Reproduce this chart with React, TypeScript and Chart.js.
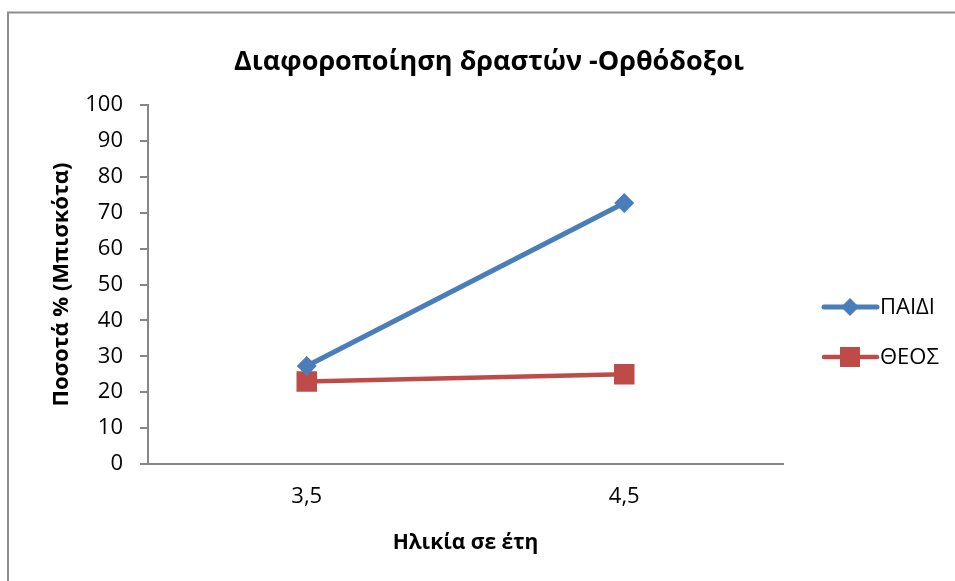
import React, { useEffect, useRef } from "react";
import { Chart, registerables } from "chart.js";

Chart.register(...registerables);

const categories = ["3,5", "4,5"];
const paidiValues = [27.3, 72.7];
const theosValues = [23, 25];
const seriesLabels = ["ΠΑΙΔΙ", "ΘΕΟΣ"];
const chartTitle = "Διαφοροποίηση δραστών -Ορθόδοξοι";
const yTitle = "Ποσοτά % (Μπισκότα)";
const xTitle = "Ηλικία σε έτη";

const BLUE = "#4a7ebb";
const RED = "#be4b48";
const AXIS = "#868686";
const FONT = "'Open Sans', 'Noto Sans', sans-serif";

export default function App() {
  const ref = useRef<HTMLCanvasElement>(null);

  useEffect(() => {
    if (!ref.current) return;
    const framePlugin = {
      id: "frameAndTitle",
      beforeDraw(chart: any) {
        const ctx = chart.ctx;
        ctx.save();
        ctx.fillStyle = "#ffffff";
        ctx.fillRect(0, 0, chart.width, chart.height);
        ctx.strokeStyle = "#8c8c8c";
        ctx.lineWidth = 2;
        ctx.strokeRect(8, 12.5, 2000, 2000);
        ctx.restore();
      },
      afterDraw(chart: any) {
        const ctx = chart.ctx;
        ctx.save();
        ctx.fillStyle = "#000";
        ctx.font = `bold 27px ${FONT}`;
        ctx.textAlign = "center";
        ctx.textBaseline = "middle";
        ctx.fillText(chartTitle, 489, 62);

        // legend
        const ds = chart.data.datasets;
        const ys = [307, 357];
        ds.forEach((d: any, i: number) => {
          const y = ys[i];
          ctx.strokeStyle = d.borderColor;
          ctx.lineWidth = d.borderWidth;
          ctx.lineCap = "round";
          ctx.beginPath();
          ctx.moveTo(824, y);
          ctx.lineTo(877, y);
          ctx.stroke();
          ctx.fillStyle = d.pointBackgroundColor;
          ctx.beginPath();
          if (d.pointStyle === "rectRot") {
            const r = 9;
            ctx.moveTo(850, y - r);
            ctx.lineTo(850 + r, y);
            ctx.lineTo(850, y + r);
            ctx.lineTo(850 - r, y);
            ctx.closePath();
          } else {
            ctx.rect(840, y - 10, 20, 20);
          }
          ctx.fill();
          ctx.fillStyle = "#000";
          ctx.font = `22px ${FONT}`;
          ctx.textAlign = "left";
          ctx.fillText(d.label, 880, y + 1);
        });
        ctx.restore();
      },
    };

    const chart = new Chart(ref.current, {
      type: "line",
      data: {
        labels: categories,
        datasets: [
          {
            label: seriesLabels[0],
            data: paidiValues,
            borderColor: BLUE,
            backgroundColor: BLUE,
            pointBackgroundColor: BLUE,
            pointBorderColor: BLUE,
            borderWidth: 5,
            pointStyle: "rectRot",
            pointRadius: 10,
            pointBorderWidth: 0,
          },
          {
            label: seriesLabels[1],
            data: theosValues,
            borderColor: RED,
            backgroundColor: RED,
            pointBackgroundColor: RED,
            pointBorderColor: RED,
            borderWidth: 4.5,
            pointStyle: "rect",
            pointRadius: 14.5,
            pointBorderWidth: 0,
          },
        ],
      },
      plugins: [framePlugin],
      options: {
        responsive: false,
        maintainAspectRatio: false,
        animation: false,
        layout: { padding: { left: 0, right: 172, top: 105, bottom: 0 } },
        plugins: {
          legend: { display: false },
          title: { display: false },
          tooltip: { enabled: false },
        },
        scales: {
          x: {
            offset: true,
            grid: { display: false, drawTicks: false },
            border: { color: AXIS, width: 2 },
            ticks: { color: "#000", font: { family: FONT, size: 22 }, padding: 20 },
            title: {
              display: true,
              text: xTitle,
              color: "#000",
              font: { family: FONT, size: 21, weight: "bold" },
              padding: { top: 0, bottom: 25 },
            },
            afterFit(scale: any) {
              scale.height = 117;
            },
          },
          y: {
            min: 0,
            max: 100,
            ticks: { stepSize: 10, color: "#000", font: { family: FONT, size: 22 }, padding: 17 },
            grid: { drawOnChartArea: false, drawTicks: true, tickLength: 8, color: AXIS, lineWidth: 2 },
            border: { color: AXIS, width: 2 },
            title: {
              display: true,
              text: yTitle,
              color: "#000",
              font: { family: FONT, size: 22, weight: "bold" },
              padding: { top: 49, bottom: 0 },
            },
            afterFit(scale: any) {
              scale.width = 148;
            },
          },
        },
      },
    });
    return () => chart.destroy();
  }, []);

  return (
    <div style={{ position: "fixed", left: 0, top: 0, width: 955, height: 581, background: "#fff" }}>
      <canvas ref={ref} width={955} height={581} style={{ width: 955, height: 581 }} />
    </div>
  );
}
